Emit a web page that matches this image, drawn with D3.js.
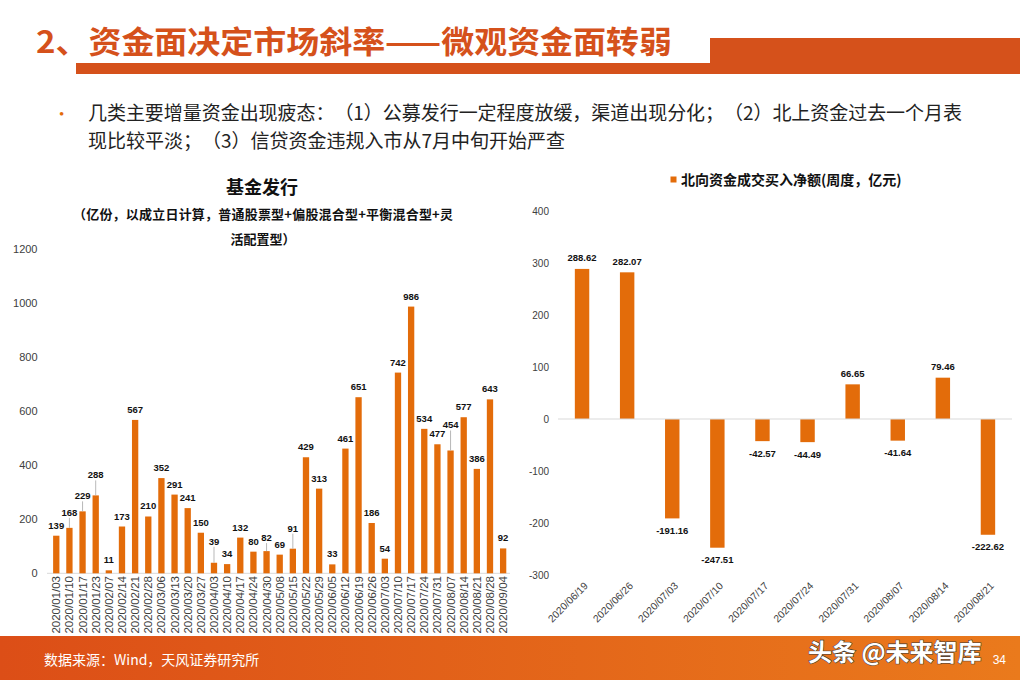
<!DOCTYPE html>
<meta charset="utf-8">
<style>
body { margin: 0; background: #fff; }
svg { display: block; }
text { text-spacing-trim: space-all; }
.cn { font-family: "Noto Sans CJK SC", "Noto Sans", sans-serif; }
.num { font-family: "Liberation Sans", Arial, sans-serif; }
.tick { fill: #404040; }
.lbl { font-size: 9.5px; font-weight: bold; fill: #111; }
.bar { fill: #E36C0A; }
.zero { stroke: #d9d9d9; stroke-width: 1px; }
.leader { stroke: #a6a6a6; stroke-width: 0.8px; }
</style>
<svg width="1020" height="680"></svg>
<script src="https://d3js.org/d3.v7.min.js"></script>
<script>

var fundDates = ["2020/01/03","2020/01/10","2020/01/17","2020/01/23","2020/02/07","2020/02/14","2020/02/21",
  "2020/02/28","2020/03/06","2020/03/13","2020/03/20","2020/03/27","2020/04/03","2020/04/10","2020/04/17",
  "2020/04/24","2020/04/30","2020/05/08","2020/05/15","2020/05/22","2020/05/29","2020/06/05","2020/06/12",
  "2020/06/19","2020/06/26","2020/07/03","2020/07/10","2020/07/17","2020/07/24","2020/07/31","2020/08/07",
  "2020/08/14","2020/08/21","2020/08/28","2020/09/04"];
var fundValues = [139,168,229,288,11,173,567,210,352,291,241,150,39,34,132,80,82,69,91,429,313,33,461,651,
  186,54,742,986,534,477,454,577,386,643,92];
var fundTicks = [0,200,400,600,800,1000,1200];

var northDates = ["2020/06/19","2020/06/26","2020/07/03","2020/07/10","2020/07/17","2020/07/24","2020/07/31",
  "2020/08/07","2020/08/14","2020/08/21"];
var northValues = [288.62,282.07,-191.16,-247.51,-42.57,-44.49,66.65,-41.64,79.46,-222.62];
var northTicks = [-300,-200,-100,0,100,200,300,400];

// labels that excel pushed up and tied back with a leader line (extra lift, px)
var fundLift = {"2020/01/10":5, "2020/01/17":5, "2020/01/23":10, "2020/04/03":11,
  "2020/04/30":3, "2020/05/15":10, "2020/08/07":15};

var orange = "#D5511B",
    barColor = "#E36C0A";

var svg = d3.select("svg");

// ---- header
svg.append("rect").attr("x", 76).attr("y", 63).attr("width", 634).attr("height", 11).attr("fill", orange);
svg.append("rect").attr("x", 710).attr("y", 38).attr("width", 310).attr("height", 36).attr("fill", orange);

svg.append("text")
    .attr("class", "cn")
    .attr("x", 36).attr("y", 53)
    .attr("textLength", 636).attr("lengthAdjust", "spacingAndGlyphs")
    .style("font-size", "31px").style("font-weight", "bold")
    .attr("fill", orange)
    .text("2、资金面决定市场斜率——微观资金面转弱");

svg.append("text")
    .attr("x", 59).attr("y", 119)
    .style("font-size", "15px")
    .attr("fill", barColor)
    .text("•");

var bulletLines = ["几类主要增量资金出现疲态：（1）公募发行一定程度放缓，渠道出现分化；（2）北上资金过去一个月表",
                   "现比较平淡；（3）信贷资金违规入市从7月中旬开始严查"];

svg.selectAll("text.bullet")
  .data(bulletLines)
  .enter().append("text")
    .attr("class", "bullet cn")
    .attr("x", 88)
    .attr("y", function(d, i) { return 120 + i * 28; })
    .attr("textLength", function(d, i) { return i === 0 ? 874 : null; })
    .style("font-size", "19px")
    .attr("fill", "#222")
    .text(function(d) { return d; });

// ---- left chart: fund issuance
var left = svg.append("g");

left.append("text")
    .attr("class", "cn")
    .attr("x", 262).attr("y", 194)
    .attr("text-anchor", "middle")
    .style("font-size", "18px").style("font-weight", "bold")
    .attr("fill", "#111")
    .text("基金发行");

left.selectAll("text.sub")
  .data(["（亿份，以成立日计算，普通股票型+偏股混合型+平衡混合型+灵", "活配置型）"])
  .enter().append("text")
    .attr("class", "sub cn")
    .attr("x", 263)
    .attr("y", function(d, i) { return 219 + i * 25; })
    .attr("text-anchor", "middle")
    .attr("textLength", function(d, i) { return i === 0 ? 380 : null; })
    .style("font-size", "13px").style("font-weight", "bold")
    .attr("fill", "#111")
    .text(function(d) { return d; });

var xL = d3.scaleBand()
    .domain(fundDates)
    .range([49.7, 509.7])
    .paddingInner(0.52)
    .paddingOuter(0.26);

var yL = d3.scaleLinear()
    .domain([0, 1200])
    .range([573.3, 248.7]);

left.selectAll("text.tick")
  .data(fundTicks)
  .enter().append("text")
    .attr("class", "tick num")
    .attr("x", 37.5)
    .attr("y", function(d) { return yL(d); })
    .attr("dy", "0.35em")
    .attr("text-anchor", "end")
    .style("font-size", "11px")
    .text(function(d) { return d; });

left.append("line")
    .attr("class", "zero")
    .attr("x1", 47).attr("x2", 510)
    .attr("y1", yL(0)).attr("y2", yL(0));

var fund = fundDates.map(function(d, i) { return {date: d, value: fundValues[i]}; });

left.selectAll("rect.bar")
  .data(fund)
  .enter().append("rect")
    .attr("class", "bar")
    .attr("x", function(d) { return xL(d.date); })
    .attr("width", xL.bandwidth())
    .attr("y", function(d) { return yL(d.value); })
    .attr("height", function(d) { return yL(0) - yL(d.value); });

function lblY(d) { return yL(d.value) - 7 - (fundLift[d.date] || 0); }

left.selectAll("line.leader")
  .data(fund.filter(function(d) { return d.date in fundLift; }))
  .enter().append("line")
    .attr("class", "leader")
    .attr("x1", function(d) { return xL(d.date) + xL.bandwidth() / 2; })
    .attr("x2", function(d) { return xL(d.date) + xL.bandwidth() / 2; })
    .attr("y1", function(d) { return lblY(d) + 2; })
    .attr("y2", function(d) { return yL(d.value); });

left.selectAll("text.lbl")
  .data(fund)
  .enter().append("text")
    .attr("class", "lbl num")
    .attr("x", function(d) { return xL(d.date) + xL.bandwidth() / 2; })
    .attr("y", lblY)
    .attr("text-anchor", "middle")
    .text(function(d) { return d.value; });

left.selectAll("text.xlab")
  .data(fundDates)
  .enter().append("text")
    .attr("class", "xlab tick num")
    .attr("transform", function(d) {
      return "translate(" + (xL(d) + xL.bandwidth() / 2) + ",576) rotate(-90)"; })
    .attr("dy", "0.35em")
    .attr("text-anchor", "end")
    .style("font-size", "11.5px")
    .text(function(d) { return d; });

// ---- right chart: northbound flows
var right = svg.append("g");

right.append("rect")
    .attr("x", 670.5).attr("y", 176.5).attr("width", 6).attr("height", 6)
    .attr("fill", barColor);

right.append("text")
    .attr("class", "cn")
    .attr("x", 681).attr("y", 185)
    .style("font-size", "14px").style("font-weight", "bold")
    .attr("fill", "#111")
    .text("北向资金成交买入净额(周度，亿元)");

var xR = d3.scaleBand()
    .domain(northDates)
    .range([559.5, 1010.5])
    .paddingInner(0.68)
    .paddingOuter(0.34);

var yR = d3.scaleLinear()
    .domain([-300, 400])
    .range([575, 211]);

right.selectAll("text.tick")
  .data(northTicks)
  .enter().append("text")
    .attr("class", "tick num")
    .attr("x", 549)
    .attr("y", function(d) { return yR(d); })
    .attr("dy", "0.35em")
    .attr("text-anchor", "end")
    .style("font-size", "10px")
    .text(function(d) { return d; });

var north = northDates.map(function(d, i) { return {date: d, value: northValues[i]}; });

right.selectAll("rect.bar")
  .data(north)
  .enter().append("rect")
    .attr("class", "bar")
    .attr("x", function(d) { return xR(d.date); })
    .attr("width", xR.bandwidth())
    .attr("y", function(d) { return yR(Math.max(0, d.value)); })
    .attr("height", function(d) { return Math.abs(yR(d.value) - yR(0)); });

right.append("line")
    .attr("class", "zero")
    .attr("x1", 558).attr("x2", 1012)
    .attr("y1", yR(0)).attr("y2", yR(0));

right.selectAll("text.lbl")
  .data(north)
  .enter().append("text")
    .attr("class", "lbl num")
    .attr("x", function(d) { return xR(d.date) + xR.bandwidth() / 2; })
    .attr("y", function(d) { return d.value >= 0 ? yR(d.value) - 7.5 : yR(d.value) + 15.5; })
    .attr("text-anchor", "middle")
    .text(function(d) { return d.value.toFixed(2); });

right.selectAll("text.xlab")
  .data(northDates)
  .enter().append("text")
    .attr("class", "xlab tick num")
    .attr("transform", function(d) {
      return "translate(" + (xR(d) + xR.bandwidth() / 2 + 4) + ",584) rotate(-45)"; })
    .attr("dy", "0.35em")
    .attr("text-anchor", "end")
    .style("font-size", "10.3px")
    .text(function(d) { return d; });

// ---- footer
var grad = svg.append("defs").append("linearGradient")
    .attr("id", "foot").attr("x1", "0").attr("x2", "1");
grad.append("stop").attr("offset", "0").attr("stop-color", "#DC4E17");
grad.append("stop").attr("offset", "1").attr("stop-color", "#EA7A1C");

svg.append("rect")
    .attr("x", 0).attr("y", 636).attr("width", 1020).attr("height", 44)
    .attr("fill", "url(#foot)");

svg.append("text")
    .attr("class", "cn")
    .attr("x", 44).attr("y", 665)
    .style("font-size", "14px")
    .attr("fill", "#fff")
    .text("数据来源：Wind，天风证券研究所");

svg.append("text")
    .attr("class", "num")
    .attr("x", 1006).attr("y", 664)
    .attr("text-anchor", "end")
    .style("font-size", "12px")
    .attr("fill", "#fff")
    .text("34");

svg.append("text")
    .attr("class", "cn")
    .attr("x", 808).attr("y", 661)
    .style("font-size", "24px").style("font-weight", "bold")
    .attr("fill", "#fff")
    .attr("stroke", "#3a3a3a").attr("stroke-width", 1.1)
    .style("paint-order", "stroke")
    .text("头条 @未来智库");

</script>
